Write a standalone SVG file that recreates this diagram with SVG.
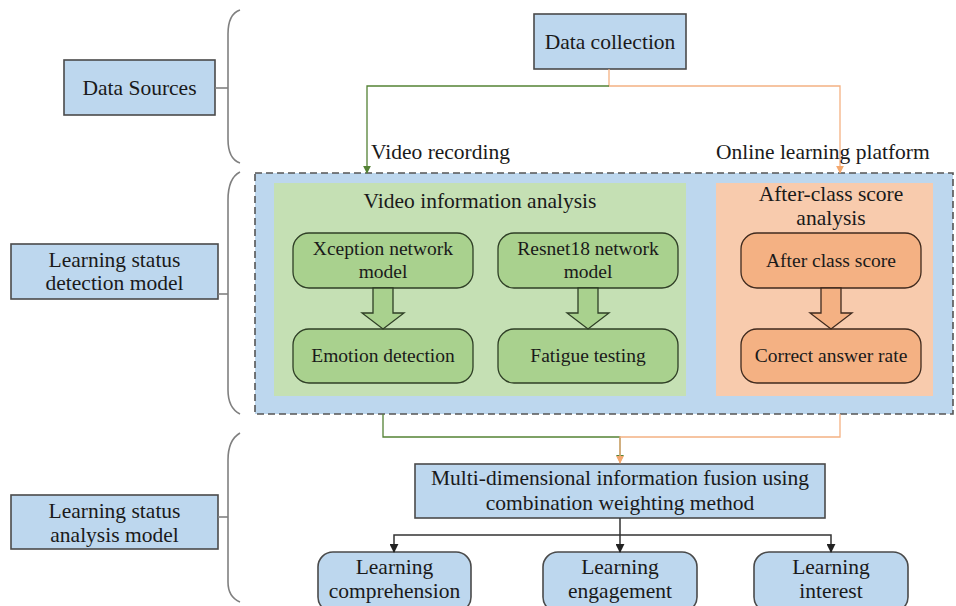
<svg xmlns="http://www.w3.org/2000/svg" width="956" height="606" viewBox="0 0 956 606">
  <defs>
    <style>
      text { font-family: "Liberation Serif", "Times New Roman", serif; fill: #1a1a1a; text-anchor: middle; }
      .t21 { font-size: 21.5px; }
      .t19 { font-size: 19.5px; }
      .lbl { text-anchor: start; font-size: 21.5px; }
      .blue { fill: #bdd7ee; stroke: #4a4a4a; stroke-width: 1.6; }
      .brace { fill: none; stroke: #808080; stroke-width: 1.6; }
      .grn { fill: #a9d18e; stroke: #2f3f26; stroke-width: 1.3; }
      .org { fill: #f4b183; stroke: #3f2a1e; stroke-width: 1.3; }
      .gline { fill: none; stroke: #548235; stroke-width: 1.3; }
      .oline { fill: none; stroke: #f4b183; stroke-width: 1.3; }
      .kline { fill: none; stroke: #333333; stroke-width: 1.5; }
    </style>
    <marker id="ag" viewBox="0 0 10 10" refX="9" refY="5" markerWidth="8" markerHeight="8" orient="auto" markerUnits="userSpaceOnUse">
      <path d="M0,0 L10,5 L0,10 z" fill="#548235"/>
    </marker>
    <marker id="ao" viewBox="0 0 10 10" refX="9" refY="5" markerWidth="8" markerHeight="8" orient="auto" markerUnits="userSpaceOnUse">
      <path d="M0,0 L10,5 L0,10 z" fill="#f4a86e"/>
    </marker>
    <marker id="ak" viewBox="0 0 10 10" refX="9" refY="5" markerWidth="9" markerHeight="9" orient="auto" markerUnits="userSpaceOnUse">
      <path d="M0,0 L10,5 L0,10 z" fill="#222222"/>
    </marker>
  </defs>

  <rect width="956" height="606" fill="#ffffff"/>

  <!-- Left-hand stage labels with braces -->
  <g id="stage-sources">
    <rect class="blue" x="64" y="60" width="151" height="55"/>
    <text class="t21" x="139.5" y="95">Data Sources</text>
    <path class="brace" d="M240,10 Q228,14 228,34 L228,139 Q228,159 240,163"/>
    <line class="brace" x1="215" y1="88" x2="228" y2="88"/>
  </g>

  <g id="stage-detection">
    <rect class="blue" x="11" y="244" width="207" height="55"/>
    <text class="t21" x="114.5" y="267">Learning status</text>
    <text class="t21" x="114.5" y="290">detection model</text>
    <path class="brace" d="M240,172 Q228,178 228,200 L228,390 Q228,408 240,414"/>
    <line class="brace" x1="218" y1="294" x2="228" y2="294"/>
  </g>

  <g id="stage-analysis">
    <rect class="blue" x="11" y="495" width="207" height="54"/>
    <text class="t21" x="114.5" y="518">Learning status</text>
    <text class="t21" x="114.5" y="542">analysis model</text>
    <path class="brace" d="M240,433 Q228,440 228,460 L228,582 Q228,597 240,602"/>
    <line class="brace" x1="218" y1="517" x2="228" y2="517"/>
  </g>

  <!-- Detection model container -->
  <g id="detection-container">
    <rect x="255" y="173" width="698" height="241" fill="#bdd7ee" stroke="#555555" stroke-width="1.6" stroke-dasharray="7,4"/>
  </g>

  <!-- Video branch -->
  <g id="video-analysis">
    <rect x="274" y="183" width="412" height="213" fill="#c5e0b4"/>
    <text class="t21" x="480" y="208">Video information analysis</text>
  </g>

  <g id="xception">
    <rect class="grn" x="293" y="233" width="180" height="55" rx="16"/>
    <text class="t19" x="383" y="255">Xception network</text>
    <text class="t19" x="383" y="278">model</text>
  </g>
  <g id="emotion">
    <rect class="grn" x="293" y="329" width="180" height="54" rx="16"/>
    <text class="t19" x="383" y="362">Emotion detection</text>
  </g>

  <g id="resnet">
    <rect class="grn" x="498" y="233" width="180" height="55" rx="16"/>
    <text class="t19" x="588" y="255">Resnet18 network</text>
    <text class="t19" x="588" y="278">model</text>
  </g>
  <g id="fatigue">
    <rect class="grn" x="498" y="329" width="180" height="54" rx="16"/>
    <text class="t19" x="588" y="362">Fatigue testing</text>
  </g>

  <!-- Score branch -->
  <g id="score-analysis">
    <rect x="716" y="183" width="217" height="213" fill="#f8cbad"/>
    <text class="t21" x="831" y="201">After-class score</text>
    <text class="t21" x="831" y="225">analysis</text>
  </g>
  <g id="after-class">
    <rect class="org" x="741" y="233" width="180" height="55" rx="16"/>
    <text class="t19" x="831" y="267">After class score</text>
  </g>
  <g id="correct-rate">
    <rect class="org" x="741" y="329" width="180" height="54" rx="16"/>
    <text class="t19" x="831" y="362">Correct answer rate</text>
  </g>

  <!-- Top source node -->
  <g id="data-collection">
    <rect class="blue" x="534" y="14" width="152" height="55"/>
    <text class="t21" x="610" y="49">Data collection</text>
  </g>

  <!-- Fusion node -->
  <g id="fusion">
    <rect class="blue" x="415" y="464" width="410" height="54"/>
    <text class="t21" x="620" y="485">Multi-dimensional information fusion using</text>
    <text class="t21" x="620" y="510">combination weighting method</text>
  </g>

  <!-- Result nodes -->
  <g id="comprehension">
    <rect class="blue" x="318" y="552" width="153" height="60" rx="15"/>
    <text class="t21" x="394.5" y="574">Learning</text>
    <text class="t21" x="394.5" y="598">comprehension</text>
  </g>
  <g id="engagement">
    <rect class="blue" x="543" y="552" width="154" height="60" rx="15"/>
    <text class="t21" x="620" y="574">Learning</text>
    <text class="t21" x="620" y="598">engagement</text>
  </g>
  <g id="interest">
    <rect class="blue" x="754" y="552" width="154" height="60" rx="15"/>
    <text class="t21" x="831" y="574">Learning</text>
    <text class="t21" x="831" y="598">interest</text>
  </g>

  <!-- Connectors -->
  <g id="connectors">
    <!-- data collection to branches -->
    <polyline class="oline" points="609,69 609,86 840,86 840,173" marker-end="url(#ao)"/>
    <polyline class="gline" points="609,86 367,86 367,173" marker-end="url(#ag)"/>
    <text class="lbl" x="371" y="159">Video recording</text>
    <text class="lbl" x="716" y="159">Online learning platform</text>

    <!-- block arrows inside the branches -->
    <path class="grn" d="M373,288 L393,288 L393,313 L404,313 L383,329 L362,313 L373,313 Z"/>
    <path class="grn" d="M578,288 L598,288 L598,313 L609,313 L588,329 L567,313 L578,313 Z"/>
    <path class="org" d="M821,288 L841,288 L841,313 L852,313 L831,329 L810,313 L821,313 Z"/>

    <!-- branches into fusion -->
    <polyline class="gline" points="383,414 383,437 620,437 620,462" marker-end="url(#ag)"/>
    <polyline class="oline" points="840,414 840,437 620,437 620,463" marker-end="url(#ao)"/>

    <!-- fusion to results -->
    <polyline class="kline" points="620,518 620,535"/>
    <polyline class="kline" points="620,535 394,535 394,552" marker-end="url(#ak)"/>
    <polyline class="kline" points="620,535 620,552" marker-end="url(#ak)"/>
    <polyline class="kline" points="620,535 831,535 831,552" marker-end="url(#ak)"/>
  </g>
</svg>
